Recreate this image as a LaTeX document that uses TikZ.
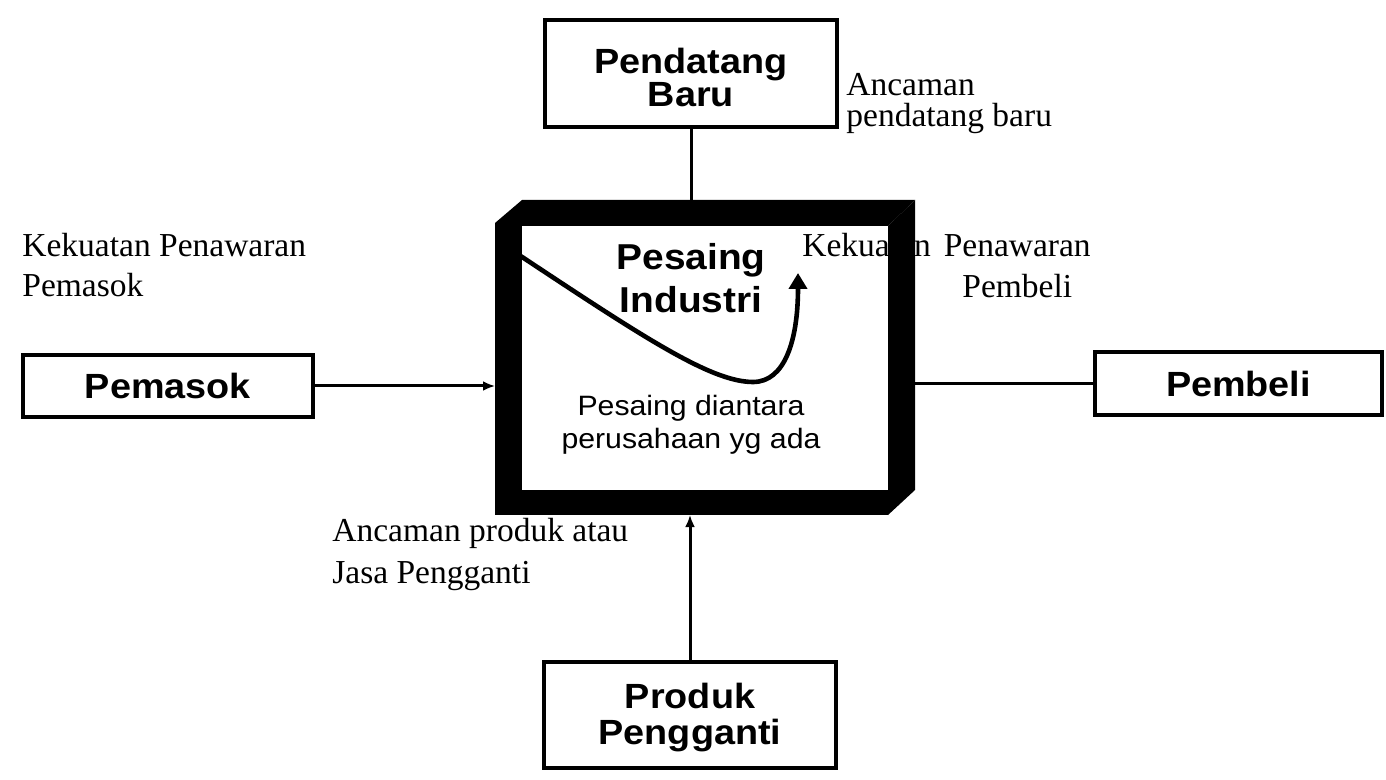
\documentclass[tikz,border=0pt]{standalone}
\usepackage{fontspec}
\setmainfont{Liberation Serif}
\newfontfamily\boxfont[FakeStretch=1.08]{Liberation Sans}
\usetikzlibrary{arrows.meta}

\begin{document}
\begin{tikzpicture}[x=0.5pt,y=-0.5pt,
  force/.style={draw=black,line width=1.6pt,fill=white,inner sep=0pt,align=center,
    font=\boxfont\bfseries\fontsize{17.5}{17.5}\selectfont},
  note/.style={inner sep=0pt,anchor=base west,align=left},
  link/.style={line width=1.5pt},
  arrowlink/.style={link,-{Latex[length=6pt,width=5pt]}},
  frameblk/.style={fill=black},
]
\useasboundingbox (0,0) rectangle (1386,780);
\fill[white] (0,0) rectangle (1386,780);

% the five forces
\node[force,minimum width=146pt,minimum height=53.5pt,
  font=\boxfont\bfseries\fontsize{17.5}{16.5}\selectfont] (pend) at (691,73.5) {\rule{0pt}{16.5pt}Pendatang\\Baru};
\node[force,minimum width=146pt,minimum height=53pt,
  font=\boxfont\bfseries\fontsize{17.5}{18}\selectfont] (prod) at (690,715) {\rule{0pt}{15pt}Produk\\Pengganti};
\node[force,minimum width=145pt,minimum height=31pt] (pem) at (168,386) {Pemasok};
\node[force,minimum width=143.5pt,minimum height=31.5pt] (pemb) at (1238.5,383.5) {Pembeli};

% where the connectors meet the central frame
\coordinate (fTop) at (691,200);
\coordinate (fLeft) at (495,386);
\coordinate (fRight) at (915,383.5);
\coordinate (fBot) at (690,515);

% annotations (anchored at the baseline of their last line)
\node[note,font=\fontsize{16.75}{15.5}\selectfont] (newthreat) at (846,127) {Ancaman\\pendatang baru};
\node[note,font=\fontsize{16.75}{20}\selectfont] (supp) at (22,297) {Kekuatan Penawaran\\Pemasok};
\node[note,font=\fontsize{16.75}{20.5}\selectfont] (buy) at (802,298) {Kekuatan\hspace{6.5pt}Penawaran\\\hspace*{80pt}Pembeli};
\node[note,font=\fontsize{16.75}{21}\selectfont] (subst) at (332,583) {Ancaman produk atau\\Jasa Pengganti};

% industry rivalry contents
\node[inner sep=0pt,align=center,anchor=base,
  font=\boxfont\bfseries\fontsize{18}{21.5}\selectfont] (ind) at (691,313) {Pesaing\\Industri};
\node[inner sep=0pt,align=center,anchor=base,
  font=\boxfont\fontsize{14}{16.5}\selectfont] (rival) at (691,448) {Pesaing diantara\\perusahaan yg ada};
\draw[line width=2.3pt,-{Triangle[length=8pt,width=9pt]}]
  (510,249) .. controls (640,335) and (710,382) .. (753,382)
  .. controls (785,382) and (798,340) .. (798,273);

% the 3-D frame
\fill[frameblk] (495,223) rectangle (522,515);
\fill[frameblk] (495,223) -- (522,200) -- (915,200) -- (888,226) -- (495,226) -- cycle;
\fill[frameblk] (888,226) -- (915,200) -- (915,490) -- (888,515) -- cycle;
\fill[frameblk] (495,490) rectangle (888,515);

% connectors
\draw[link] (pend) -- (fTop);
\draw[arrowlink] (pem) -- (fLeft);
\draw[link] (fRight) -- (pemb);
\draw[arrowlink] (prod) -- (fBot);
\end{tikzpicture}
\end{document}
